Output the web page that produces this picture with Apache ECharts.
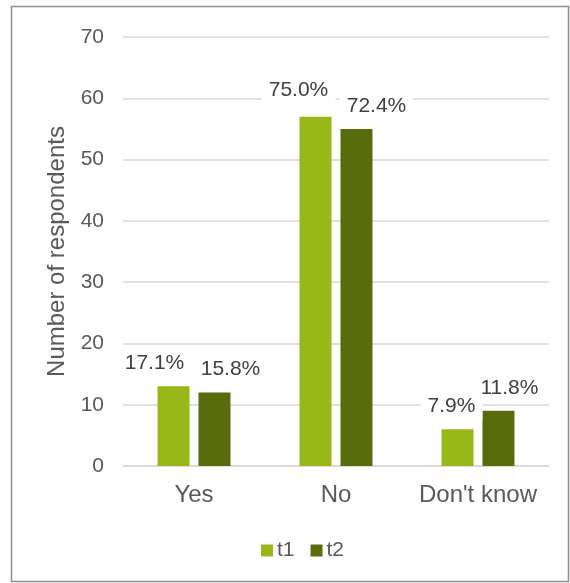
<!DOCTYPE html>
<html>
<head>
<meta charset="utf-8">
<script src="https://cdn.jsdelivr.net/npm/echarts@6/dist/echarts.min.js"></script>
<style>
html,body{margin:0;padding:0;background:#fff;}
#chart{width:570px;height:583px;}
</style>
</head>
<body>
<div id="chart"></div>
<script>
var categories = ["Yes", "No", "Don't know"];
var seriesNames = ["t1", "t2"];
var t1Values = [13, 57, 6];
var t2Values = [12, 55, 9];
var t1Labels = ["17.1%", "75.0%", "7.9%"];
var t2Labels = ["15.8%", "72.4%", "11.8%"];
var yTicks = [0, 10, 20, 30, 40, 50, 60, 70];

// label placement tweaks (style only)
var t1LabelOffsets = [[-19, 0], [-17, -3], [-6, 0]];
var t2LabelOffsets = [[16, 0], [20, 1], [11, 1]];

var colors = ["#97B816", "#586C0B"];

function buildData(values, labels, offsets) {
  return values.map(function (v, i) {
    return {
      value: v,
      label: { formatter: labels[i], offset: offsets[i] }
    };
  });
}

var labelStyle = {
  show: true,
  position: 'top',
  distance: 10,
  fontFamily: 'Liberation Sans, Arial, sans-serif',
  fontSize: 21,
  color: '#404040',
  backgroundColor: '#ffffff',
  padding: [3, 7]
};

var chart = echarts.init(document.getElementById('chart'), null, { renderer: 'canvas' });
chart.setOption({
  animation: false,
  backgroundColor: '#ffffff',
  color: colors,
  textStyle: { fontFamily: 'Liberation Sans, Arial, sans-serif' },
  graphic: [{
    type: 'rect',
    silent: true,
    z: -10,
    shape: { x: 11.5, y: 6.5, width: 557, height: 575 },
    style: { fill: 'none', stroke: '#8f8f8f', lineWidth: 1.5 }
  }],
  grid: { left: 123, right: 21, top: 37, bottom: 117, containLabel: false },
  legend: {
    data: seriesNames,
    left: 256,
    top: 535,
    icon: 'rect',
    itemWidth: 12,
    itemHeight: 12,
    itemGap: 16,
    textStyle: { fontSize: 21, color: '#595959', padding: [0, 0, 0, -1] }
  },
  xAxis: {
    type: 'category',
    data: categories,
    axisLine: { lineStyle: { color: '#D9D9D9', width: 1.5 } },
    axisTick: { show: false },
    axisLabel: { fontSize: 24, color: '#595959', margin: 17, interval: 0 }
  },
  yAxis: {
    type: 'value',
    min: yTicks[0],
    max: yTicks[yTicks.length - 1],
    interval: yTicks[1] - yTicks[0],
    name: 'Number of respondents',
    nameLocation: 'middle',
    nameGap: 52,
    nameTextStyle: { fontSize: 24, color: '#595959' },
    axisLine: { show: false },
    axisTick: { show: false },
    axisLabel: { fontSize: 21, color: '#595959', margin: 19 },
    splitLine: { lineStyle: { color: '#D9D9D9', width: 1.5 } }
  },
  series: [
    {
      name: seriesNames[0],
      type: 'bar',
      data: buildData(t1Values, t1Labels, t1LabelOffsets),
      barWidth: 32,
      barGap: '28%',
      label: labelStyle,
      z: 3
    },
    {
      name: seriesNames[1],
      type: 'bar',
      data: buildData(t2Values, t2Labels, t2LabelOffsets),
      barWidth: 32,
      label: labelStyle,
      z: 2
    }
  ]
});
</script>
</body>
</html>
